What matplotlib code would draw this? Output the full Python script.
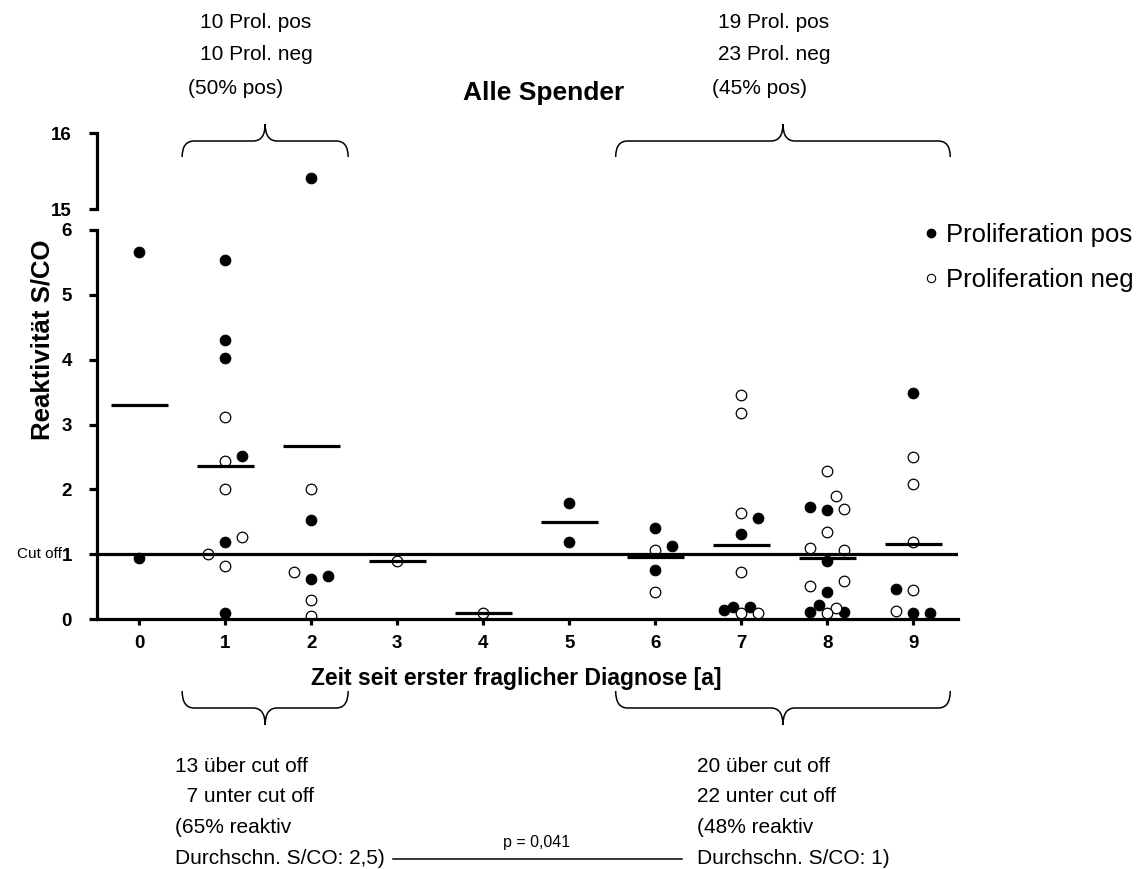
import numpy as np
import matplotlib
matplotlib.use('Agg')
from matplotlib import pyplot as plt
from matplotlib.path import Path
from matplotlib.patches import PathPatch
from matplotlib.lines import Line2D

plt.rcParams['font.family'] = ['Liberation Sans', 'DejaVu Sans']

years = [0, 1, 2, 3, 4, 5, 6, 7, 8, 9]
cut_off = 1

# Proliferation positiv (gefuellte Kreise), x leicht versetzt innerhalb eines Jahres
pos_x = [0, 0,
         1, 1, 1, 1.2, 1, 1,
         2, 2, 2, 2.2,
         5, 5,
         6, 6.2, 6,
         7.2, 7, 6.8, 6.9, 7.1,
         7.8, 8, 8, 8, 7.9, 7.8, 8.2,
         9, 8.8, 9, 9.2]
pos_y = [5.66, 0.94,
         5.54, 4.31, 4.02, 2.51, 1.19, 0.10,
         15.41, 1.53, 0.61, 0.67,
         1.79, 1.19,
         1.41, 1.13, 0.76,
         1.56, 1.31, 0.14, 0.19, 0.19,
         1.72, 1.68, 0.89, 0.41, 0.21, 0.11, 0.11,
         3.48, 0.46, 0.09, 0.10]

# Proliferation negativ (offene Kreise)
neg_x = [1, 1, 1, 1.2, 0.8, 1,
         2, 1.8, 2, 2,
         3,
         4,
         6, 6,
         7, 7, 7, 7, 7, 7.2,
         8, 8.1, 8.2, 8, 7.8, 8.2, 7.8, 8.2, 8.1, 8,
         9, 9, 9, 9, 8.8]
neg_y = [3.12, 2.43, 2.00, 1.26, 1.00, 0.82,
         2.00, 0.73, 0.30, 0.05,
         0.89,
         0.09,
         1.06, 0.41,
         3.46, 3.17, 1.63, 0.73, 0.10, 0.10,
         2.29, 1.90, 1.70, 1.34, 1.09, 1.07, 0.51, 0.59, 0.17, 0.09,
         2.50, 2.08, 1.18, 0.44, 0.13]

all_x = np.array(pos_x + neg_x)
all_y = np.array(pos_y + neg_y)
groups = np.rint(all_x).astype(int)
means = [all_y[groups == g].mean() for g in years]

W, H = 1139, 869
fig = plt.figure(figsize=(W / 100, H / 100), dpi=100)


def box(x0, y0, x1, y1):
    return [x0 / W, 1 - y1 / H, (x1 - x0) / W, (y1 - y0) / H]


ax = fig.add_axes(box(97, 230, 958, 619))
ax_top = fig.add_axes(box(97, 133, 958, 209))

for a in (ax, ax_top):
    a.scatter(pos_x, pos_y, s=58, c='black', edgecolors='black', linewidths=0.8, zorder=3)
    a.scatter(neg_x, neg_y, s=58, c='white', edgecolors='black', linewidths=0.9, zorder=3)
    a.hlines(means, np.array(years) - 0.33, np.array(years) + 0.33,
             colors='black', lw=2.3, zorder=4)
    a.set_xlim(-0.49, 9.52)
    for s in ('top', 'right'):
        a.spines[s].set_visible(False)
    a.spines['left'].set_linewidth(2.3)
    a.spines['bottom'].set_linewidth(2.3)
    a.spines['left'].set_zorder(5)
    a.spines['bottom'].set_zorder(5)

tick_fs = 13.5
ax.axhline(cut_off, color='black', lw=2.3, zorder=4)
ax.set_ylim(0, 6)
ax.set_xticks(years, labels=[str(y) for y in years], fontweight='bold', fontsize=tick_fs)
ax.set_yticks(range(7), labels=[str(v) for v in range(7)], fontweight='bold', fontsize=tick_fs)
ax.tick_params(axis='x', direction='out', length=4.5, width=2.3, pad=7)
ax.tick_params(axis='y', direction='out', length=6, width=2.3, pad=12)
ax.annotate('Cut off', xy=(0, cut_off), xycoords=('axes fraction', 'data'),
            xytext=(-25, 0), textcoords='offset points', ha='right', va='center',
            fontsize=11)

ax_top.set_ylim(15, 16)
ax_top.spines['bottom'].set_visible(False)
ax_top.set_xticks([])
ax_top.set_yticks([15, 16], labels=['15', '16'], fontweight='bold', fontsize=tick_fs)
ax_top.tick_params(axis='y', direction='out', length=6, width=2.3, pad=12)

fig.text(43 / W, 1 - 340 / H, 'Reaktivität S/CO', rotation=90, ha='center', va='center',
         fontweight='bold', fontsize=18.5)
fig.text(516 / W, 1 - 678 / H, 'Zeit seit erster fraglicher Diagnose [a]', ha='center',
         va='center', fontweight='bold', fontsize=16.5)
fig.text(544 / W, 1 - 93 / H, 'Alle Spender', ha='center', va='center',
         fontweight='bold', fontsize=19)

handles = [Line2D([], [], ls='none', marker='o', ms=6, mfc='black', mec='black'),
           Line2D([], [], ls='none', marker='o', ms=6, mfc='white', mec='black', mew=0.8)]
fig.legend(handles, ['Proliferation pos', 'Proliferation neg'], loc='upper left',
           bbox_to_anchor=(925 / W, 1 - 223 / H), frameon=False, fontsize=18.5,
           handlelength=0.5, handletextpad=0.3, labelspacing=0.83,
           borderpad=0, borderaxespad=0)

# overlay in pixel coordinates for braces and side notes
ov = fig.add_axes([0, 0, 1, 1])
ov.set_xlim(0, W)
ov.set_ylim(H, 0)
ov.axis('off')


def px(x):
    return ax.transData.transform((x, 0))[0]


def brace(x0, x1, y_end, y_bar, y_tip, r=12):
    xm = (x0 + x1) / 2
    verts = [(x0, y_end), (x0, y_bar), (x0 + r, y_bar),
             (xm - r, y_bar), (xm, y_bar), (xm, y_tip),
             (xm, y_bar), (xm + r, y_bar),
             (x1 - r, y_bar), (x1, y_bar), (x1, y_end)]
    codes = [Path.MOVETO, Path.CURVE3, Path.CURVE3,
             Path.LINETO, Path.CURVE3, Path.CURVE3,
             Path.CURVE3, Path.CURVE3,
             Path.LINETO, Path.CURVE3, Path.CURVE3]
    ov.add_patch(PathPatch(Path(verts, codes), fc='none', ec='black', lw=1.1))


for lo, hi in [(0.5, 2.43), (5.54, 9.43)]:
    brace(px(lo), px(hi), 157, 141, 124)
    brace(px(lo), px(hi), 691, 708, 725)

fs = 15
ov.text(200, 22, '10 Prol. pos', fontsize=fs, va='center')
ov.text(200, 55, '10 Prol. neg', fontsize=fs, va='center')
ov.text(188, 88, '(50% pos)', fontsize=fs, va='center')
ov.text(718, 22, '19 Prol. pos', fontsize=fs, va='center')
ov.text(718, 55, '23 Prol. neg', fontsize=fs, va='center')
ov.text(712, 88, '(45% pos)', fontsize=fs, va='center')

left_notes = ['13 über cut off', '  7 unter cut off', '(65% reaktiv', 'Durchschn. S/CO: 2,5)']
right_notes = ['20 über cut off', '22 unter cut off', '(48% reaktiv', 'Durchschn. S/CO: 1)']
for i, (l, r) in enumerate(zip(left_notes, right_notes)):
    ov.text(175, 766 + 30.7 * i, l, fontsize=fs, va='center')
    ov.text(697, 766 + 30.7 * i, r, fontsize=fs, va='center')

ov.plot([393, 682], [859, 859], color='black', lw=1.1)
ov.text(537, 842, 'p = 0,041', fontsize=11.5, ha='center', va='center')

fig.savefig('out.png', dpi=100)
